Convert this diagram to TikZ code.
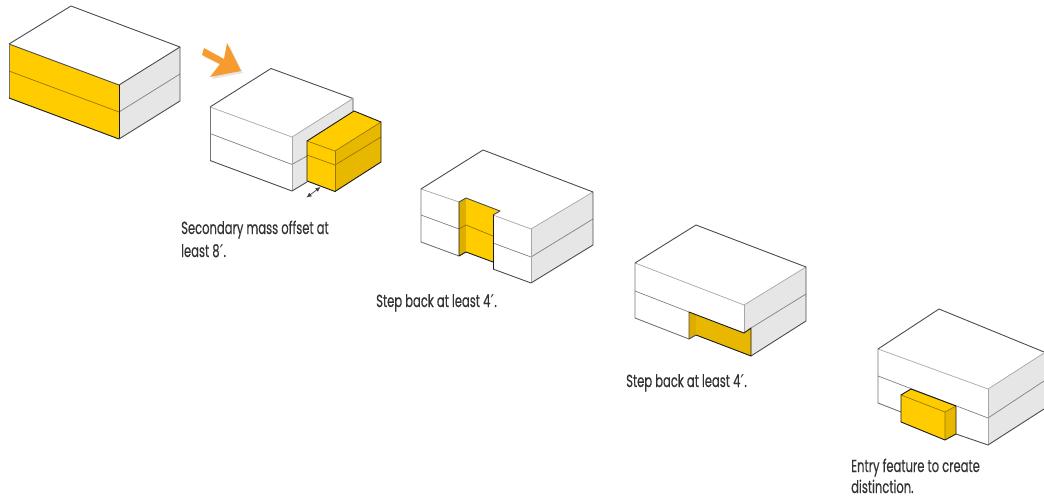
\documentclass[tikz,border=0pt]{standalone}
\usepackage{fontspec}
\usetikzlibrary{arrows.meta}
\setmainfont[FakeStretch=0.66,FakeBold=0.35]{Poppins}
\newfontfamily\primefont{DejaVu Sans}
\newcommand{\ftmark}{{\primefont ′}}
\definecolor{ylw}{HTML}{FFCC00}
\definecolor{ylwd}{HTML}{E8B800}
\definecolor{ylws}{HTML}{DDAE00}
\definecolor{sidegrey}{HTML}{E6E6E6}
\definecolor{arroworange}{HTML}{F89B2E}
\definecolor{inktext}{HTML}{333333}
\tikzset{
  edge/.style={draw=black!70,line width=0.9pt,line join=round},
  soft/.style={draw=black!55,line width=0.9pt,line join=round},
  faint/.style={draw=black!35,line width=0.7pt},
  hard/.style={draw=black!90,line width=0.9pt,line join=round},
  floorline/.style={draw=black!50,line width=0.7pt},
  floorink/.style={draw=black!35!ylwd,line width=0.7pt},
  caption/.style={anchor=base west,inner sep=0pt,font=\fontsize{17.5}{20}\selectfont,text=inktext}
}
\begin{document}
\begin{tikzpicture}[x=1pt,y=-1pt]
\useasboundingbox (0,0) rectangle (1044,500);
% ---- box 1
\fill[white] (9,44)--(71,6)--(180,47)--(119,85)--cycle;
\fill[ylw] (9,44)--(119,85)--(119,139)--(9,98)--cycle;
\fill[sidegrey] (119,85)--(180,47)--(180,101)--(119,139)--cycle;
\draw[floorink] (9,71)--(119,112);
\draw[floorline] (119,112)--(180,74);
\draw[edge] (9,44)--(71,6)--(180,47)--(119,85);
\draw[edge] (9,44)--(119,85);
\draw[soft] (9,44)--(9,98);
\draw[hard] (9,98)--(119,139);
\draw[hard] (119,85)--(119,139);
\draw[edge] (119,139)--(180,101)--(180,47);
% ---- orange arrow
\fill[black,opacity=.10] (206,50)--(226,61)--(229,45)--(243,73)--(212,79)--(222,66)--(204,57)--cycle;
\fill[arroworange] (204,48)--(224,59)--(227,43)--(241,71)--(210,77)--(220,64)--(202,55)--cycle;
% ---- box 2
\fill[sidegrey] (292,137)--(353,98)--(353,111)--(307,141)--(307,182)--(292,191)--cycle;
\draw[floorline] (210,133.5)--(292,164.5)--(307,156);
\draw[edge] (210,107)--(271,68.5)--(353,98.5)--(353,111);
\draw[faint] (210,107)--(292,137)--(353,98.5);
\draw[faint] (292,137)--(292,191);
\draw[soft] (210,107)--(210,160.5);
\draw[edge] (210,160.5)--(292,191)--(307,182);
\fill[ylw] (307,141)--(354,111)--(381,122)--(335,151)--cycle;
\fill[ylw] (307,141)--(335,151)--(335,191.5)--(307,181)--cycle;
\fill[ylwd] (335,151)--(381,122)--(381,162)--(335,191.5)--cycle;
\draw[floorink] (307,155)--(335,165)--(381,137);
\draw[floorink] (307,141)--(335,151)--(381,122);
\draw[floorink] (335,151)--(335,191.5);
\draw[hard] (307,181)--(307,141)--(354,111)--(381,122)--(381,162)--(335,191.5)--cycle;
\coordinate (offsetA) at (306.5,197.5);
\coordinate (offsetB) at (320.5,187);
\draw[black!75,line width=.7pt,{Latex[length=5pt,width=4.5pt]}-{Latex[length=5pt,width=4.5pt]}] (offsetA)--(offsetB);
% ---- box 3
\fill[sidegrey] (531,229)--(593,192)--(593,245)--(531,283)--cycle;
\fill[ylws] (459,202)--(466,198)--(466,252)--(459,256)--cycle;
\fill[ylw] (466,198)--(500,211)--(493,215)--(493,262)--(466,252)--cycle;
\draw[floorink] (459,229)--(466,225)--(493,236);
\draw[floorline] (421,215)--(459,229);
\draw[floorline] (493,243)--(531,257)--(593,219);
\draw[faint] (421,189)--(459,202);
\draw[faint] (493,215)--(531,229)--(593,192);
\draw[faint] (531,229)--(531,283);
\draw[edge] (421,189)--(483,150)--(593,192)--(593,245)--(531,283)--(493,269);
\draw[soft] (421,189)--(421,242)--(459,256);
\draw[hard] (459,202)--(459,256)--(466,252)--(493,262);
\draw[hard] (493,215)--(493,269);
\draw[edge] (459,202)--(466,198)--(500,211)--(493,215);
% ---- box 4
\fill[sidegrey] (744,305)--(806,267)--(806,321)--(751,356)--(751,328)--(744,333)--cycle;
\fill[ylws] (689,312)--(696,315)--(696,335)--(689,339)--cycle;
\fill[ylwd] (696,315)--(744,333)--(751,328)--(751,356)--(696,335)--cycle;
\draw[floorline] (635,291)--(689,312);
\draw[floorline] (751,328)--(806,294);
\draw[faint] (635,263)--(744,305)--(806,267);
\draw[faint] (744,305)--(744,333);
\draw[edge] (635,263)--(696,225)--(806,267)--(806,321)--(751,356);
\draw[soft] (635,263)--(635,318)--(689,339);
\draw[edge] (689,312)--(689,339)--(696,335);
\draw[hard] (689,312)--(744,333)--(751,328)--(751,356)--(696,335);
% ---- box 5
\fill[sidegrey] (988,389)--(1044,353)--(1044,409)--(988,445)--cycle;
\draw[floorline] (878,376)--(988,418)--(1044,381);
\draw[faint] (878,349)--(988,389)--(1044,353);
\draw[faint] (988,389)--(988,445);
\draw[edge] (878,349)--(939,309)--(1044,352);
\draw[soft] (878,349)--(878,403)--(901,412);
\draw[edge] (956,434)--(988,445)--(1044,409);
\fill[ylw] (901,395)--(911,389)--(956,406)--(945,412)--cycle;
\fill[ylw] (901,395)--(945,412)--(945,440)--(901,422)--cycle;
\fill[ylwd] (945,412)--(956,406)--(956,434)--(945,440)--cycle;
\draw[floorink] (901,395)--(945,412)--(945,440);
\draw[floorink] (945,412)--(956,406);
\draw[hard] (901,422)--(901,395)--(911,389)--(956,406)--(956,434)--(945,440)--cycle;
% ---- captions
\node[caption] (capA) at (181,234) {Secondary mass offset at};
\node[caption] (capAb) at (181,257) {least 8\ftmark.};
\node[caption] (capB) at (376,307) {Step back at least 4\ftmark.};
\node[caption] (capC) at (626,387) {Step back at least 4\ftmark.};
\node[caption] (capD) at (851,472) {Entry feature to create};
\node[caption] (capDb) at (851,493) {distinction.};
\end{tikzpicture}
\end{document}
